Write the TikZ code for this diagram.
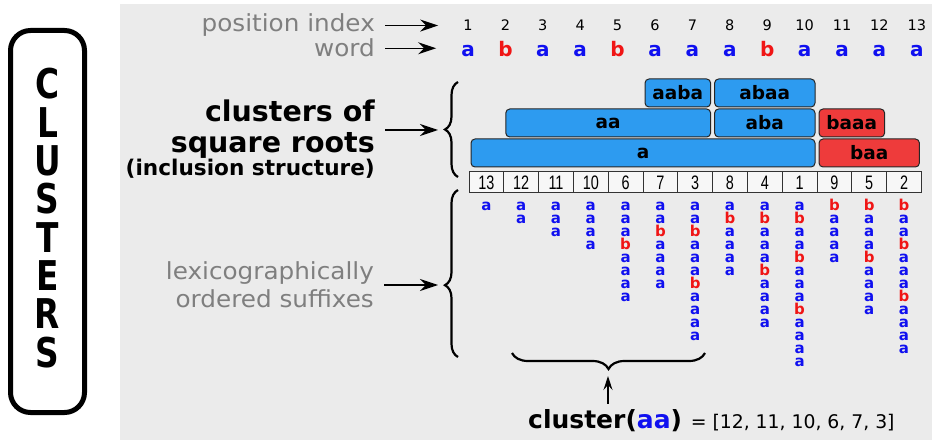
\documentclass[tikz,border=0pt]{standalone}
\usepackage{fontspec}
\setmainfont{DejaVu Sans}
\newfontfamily\cellfont{Liberation Sans}[FakeStretch=0.74]
\newfontfamily\bannerfont{DejaVu Sans}[FakeStretch=0.8]
\newfontfamily\labelfont{DejaVu Sans}[FakeStretch=1.05]
\usepackage{xcolor}
\usepackage{tikz}
\usetikzlibrary{arrows.meta, positioning}
\usetikzlibrary{decorations.pathreplacing}
\definecolor{panelgray}{HTML}{EBEBEB}
\definecolor{labelgray}{HTML}{7F7F7F}
\definecolor{boxblue}{HTML}{2D9BF0}
\definecolor{boxred}{HTML}{EE3B3B}
\definecolor{cola}{HTML}{1010F0}
\definecolor{colb}{HTML}{F01515}

\begin{document}
\begin{tikzpicture}[
    x=1pt, y=-1pt,
    >={Stealth[length=18pt, width=12pt, inset=6pt]},
    arr/.style={->, line width=1.4pt},
    curly/.style={decorate, decoration={brace, amplitude=#1}, line width=2.2pt},
    cbox/.style={
        draw=black!85,
        line width=1pt,
        rounded corners=4pt,
        minimum height=28pt,
        inner sep=0pt,
        font=\fontsize{18.5}{20}\selectfont\bfseries},
    cell/.style={
        draw=black!80,
        fill=white!97!black,
        line width=1pt,
        minimum width=34.8pt,
        minimum height=21pt,
        inner sep=0pt,
        font=\cellfont\fontsize{19.5}{20}\selectfont},
    letter/.style={
        anchor=base,
        inner sep=0pt,
        text height=11pt,
        text depth=0pt,
        font=\fontsize{15}{15}\selectfont\bfseries},
    graylabel/.style={text=labelgray, inner sep=0pt, font=\labelfont\fontsize{23.5}{28}\selectfont}]
    \useasboundingbox (0,0) rectangle (936,443);
    \fill[panelgray] (120,4) rectangle (932,440);
    % banner on the left
    \node[draw, line width=5pt, rounded corners=20pt, minimum width=74pt, minimum height=382pt] (banner) at (47.5,221.5) {};
    \foreach \ch [count=\n] in {C,L,U,S,T,E,R,S}
        \node[anchor=base, inner sep=0pt, font=\bannerfont\fontsize{41}{41}\selectfont\bfseries] (b\n) at (47.5,{99+38.3*(\n-1)}) {\ch};
    % position index and word
    \def\wordlist{{"a","b","a","a","b","a","a","a","b","a","a","a","a"}}
    \foreach \r in {1,...,13} {
        \pgfmathparse{\wordlist[\r-1]}\edef\ch{\pgfmathresult}
        \node[anchor=base, inner sep=0pt, font=\fontsize{14.5}{16}\selectfont] (i\r) at ({468+37.4*(\r-1)},31) {\r};
        \node[anchor=base, inner sep=0pt, text=col\ch, font=\fontsize{20}{22}\selectfont\bfseries] (w\r) at ({468+37.4*(\r-1)},56.5) {\ch};
    }
    \node[graylabel, anchor=base east] (pidx) at (375,32) {position index};
    \node[graylabel, anchor=base east] (wlab) at (375,57) {word};
    \draw[arr] ([xshift=10pt]pidx.east) -- ([xshift=-25pt]pidx.east -| i1.west);
    \draw[arr] ([xshift=10pt]wlab.east) -- ([xshift=-25pt]wlab.east -| w1.west);
    % sorted suffixes
    \foreach \p [count=\k] in {13,12,11,10,6,7,3,8,4,1,9,5,2} {
        \node[cell] (c\k) at ({469+34.8*(\k-0.5)},182.5) {\p};
        \foreach \r in {\p,...,13} {
            \pgfmathparse{\wordlist[\r-1]}\edef\ch{\pgfmathresult}
            \node[letter, text=col\ch] (s\k-\r) at ({469+34.8*(\k-0.5)},{210.5+13*(\r-\p)}) {\ch};
        }
    }
    % clusters
    \foreach \txt/\from/\to/\row/\col in {a/0/10/3/boxblue, aa/1/7/2/boxblue, aaba/5/7/1/boxblue,
        aba/7/10/2/boxblue, abaa/7/10/1/boxblue, baa/10/13/3/boxred, baaa/10/12/2/boxred}
        \node[cbox, fill=\col, minimum width={34.8*(\to-\from)-4}] (k\txt) at ({469+34.8*(\from+\to)/2},{63+30*\row}) {\txt};
    \node[anchor=base east, inner sep=0pt, font=\fontsize{28.5}{30}\selectfont\bfseries] (clab1) at (375,122) {clusters of};
    \node[anchor=base east, inner sep=0pt, font=\fontsize{28.5}{30}\selectfont\bfseries] (clab2) at (375,153) {square roots};
    \node[anchor=base east, inner sep=0pt, font=\fontsize{21.6}{24}\selectfont\bfseries] (clab3) at (375,176) {(inclusion structure)};
    \coordinate (ctip) at (445,130);
    \draw[curly=13pt] (458,177) -- (458,82);
    \draw[arr] ([xshift=10pt]clab1.east |- ctip) -- ([xshift=-7pt]ctip);
    % suffix label
    \node[graylabel, anchor=east, align=right] (sufflab) at (374,285) {lexicographically\\ordered suffixes};
    \coordinate (stip) at (445,285);
    \draw[curly=13pt, decoration={aspect=0.43}] (458,357) -- (458,190);
    \draw[arr] ([xshift=10pt]sufflab.east) -- ([xshift=-7pt]stip |- sufflab.east);
    % cluster(aa)
    \coordinate (btip) at (608,370);
    \draw[curly=16pt] (705,353) -- (512,353);
    \node[anchor=base west, inner sep=0pt] (ctext) at (528,428) {\fontsize{25}{27}\selectfont\bfseries cluster(\textcolor{cola}{aa}) \fontsize{18.8}{20}\selectfont\mdseries= [12, 11, 10, 6, 7, 3]};
    \draw[-{Stealth[length=14pt, width=9pt, inset=5pt]}, line width=1.4pt] ([yshift=5pt]ctext.north -| btip) -- ([yshift=-6pt]btip);
\end{tikzpicture}
\end{document}
